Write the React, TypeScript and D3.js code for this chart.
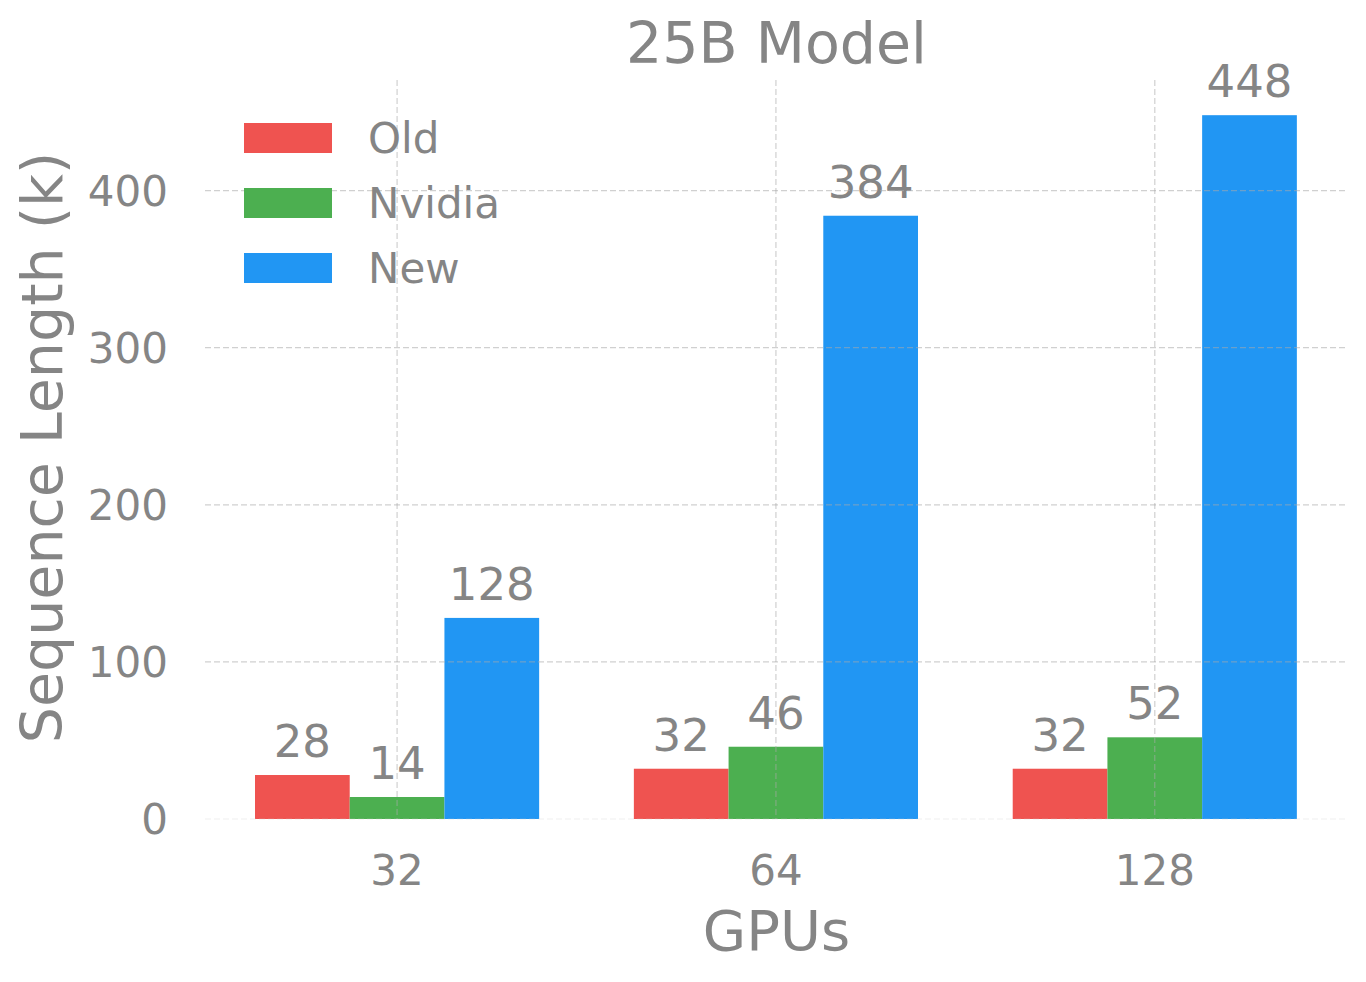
import { useEffect, useRef } from 'react';
import * as d3 from 'd3';

const categories = ['32', '64', '128'];
const seriesNames = ['Old', 'Nvidia', 'New'];
const oldValues = [28, 32, 32];
const nvidiaValues = [14, 46, 52];
const newValues = [128, 384, 448];
const yTicks = [0, 100, 200, 300, 400];
const colors = ['#EF5350', '#4CAF50', '#2196F3'];

const W = 1366;
const H = 982;
const textColor = '#858585';
const font = 'DejaVu Sans, sans-serif';

export default function App() {
  const svgRef = useRef<SVGSVGElement>(null);

  useEffect(() => {
    const svg = d3.select(svgRef.current);
    svg.selectAll('*').remove();

    const series = [oldValues, nvidiaValues, newValues];
    const maxVal = d3.max(newValues) as number;

    // plot area in pixels
    const left = 205, right = 1348, top = 80, bottom = 819;

    const x = d3.scaleLinear().domain([-0.507, categories.length - 1 + 0.51]).range([left, right]);
    const y = d3.scaleLinear().domain([0, maxVal * 1.05]).range([bottom, top]);
    const barW = x(0.25) - x(0);

    // bars
    series.forEach((vals, si) => {
      svg.append('g')
        .selectAll('rect')
        .data(vals)
        .enter().append('rect')
        .attr('x', (d, i) => x(i + (si - 1) * 0.25) - barW / 2)
        .attr('width', barW)
        .attr('y', d => y(d))
        .attr('height', d => y(0) - y(d))
        .attr('fill', colors[si]);

      svg.append('g')
        .selectAll('text')
        .data(vals)
        .enter().append('text')
        .attr('x', (d, i) => x(i + (si - 1) * 0.25))
        .attr('y', d => y(d) - 18)
        .attr('text-anchor', 'middle')
        .attr('font-family', font)
        .attr('font-size', 45)
        .attr('fill', textColor)
        .text(d => d);
    });

    // grid (drawn over bars)
    const grid = svg.append('g')
      .attr('stroke', 'rgba(170,170,170,0.55)')
      .attr('stroke-width', 1.2)
      .attr('stroke-dasharray', '6,3');

    grid.selectAll('.hgrid')
      .data(yTicks.filter(t => t > 0))
      .enter().append('line')
      .attr('x1', left).attr('x2', right)
      .attr('y1', d => y(d)).attr('y2', d => y(d));

    grid.selectAll('.vgrid')
      .data(categories)
      .enter().append('line')
      .attr('x1', (d, i) => x(i)).attr('x2', (d, i) => x(i))
      .attr('y1', top).attr('y2', bottom);

    svg.append('line')
      .attr('x1', left).attr('x2', right)
      .attr('y1', y(0)).attr('y2', y(0))
      .attr('stroke', 'rgba(200,200,200,0.3)')
      .attr('stroke-dasharray', '6,3');

    // y ticks
    svg.append('g')
      .selectAll('text')
      .data(yTicks)
      .enter().append('text')
      .attr('x', 168)
      .attr('y', d => y(d))
      .attr('dy', '0.36em')
      .attr('text-anchor', 'end')
      .attr('font-family', font)
      .attr('font-size', 42)
      .attr('fill', textColor)
      .text(d => d);

    // x ticks
    svg.append('g')
      .selectAll('text')
      .data(categories)
      .enter().append('text')
      .attr('x', (d, i) => x(i))
      .attr('y', 885)
      .attr('text-anchor', 'middle')
      .attr('font-family', font)
      .attr('font-size', 42)
      .attr('fill', textColor)
      .text(d => d);

    // title and axis labels
    svg.append('text')
      .attr('x', (left + right) / 2).attr('y', 63)
      .attr('text-anchor', 'middle')
      .attr('font-family', font).attr('font-size', 57)
      .attr('fill', textColor)
      .text('25B Model');

    svg.append('text')
      .attr('x', (left + right) / 2).attr('y', 950)
      .attr('text-anchor', 'middle')
      .attr('font-family', font).attr('font-size', 56)
      .attr('fill', textColor)
      .text('GPUs');

    svg.append('text')
      .attr('transform', `translate(62,${(top + bottom) / 2 - 2}) rotate(-90)`)
      .attr('text-anchor', 'middle')
      .attr('font-family', font).attr('font-size', 57)
      .attr('fill', textColor)
      .text('Sequence Length (k)');

    // legend
    const legend = svg.append('g').attr('transform', 'translate(244,123)');
    seriesNames.forEach((name, i) => {
      legend.append('rect')
        .attr('x', 0).attr('y', i * 65)
        .attr('width', 88).attr('height', 30)
        .attr('fill', colors[i]);
      legend.append('text')
        .attr('x', 124).attr('y', i * 65 + 15)
        .attr('dy', '0.36em')
        .attr('font-family', font).attr('font-size', 42)
        .attr('fill', textColor)
        .text(name);
    });
  }, []);

  return (
    <div style={{ position: 'absolute', left: 0, top: 0 }}>
      <svg ref={svgRef} width={W} height={H} style={{ display: 'block', background: '#fff' }}></svg>
    </div>
  );
}
